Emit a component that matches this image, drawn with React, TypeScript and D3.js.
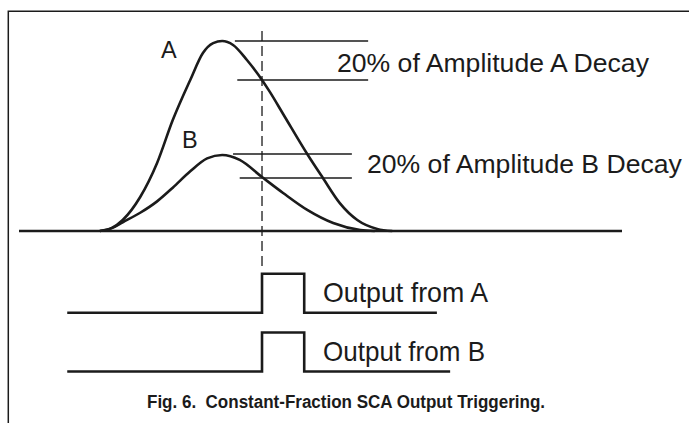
import React from 'react';
import * as d3 from 'd3';

// time axis (arbitrary units) and amplitude (A peak = 100)
const pulseATime = [13.4, 15.4, 17.2, 20.1, 22.9, 25.5, 28.4, 30.5, 32.2, 33.7, 35.5, 37.8, 40.3, 41.6, 43.8, 47.9, 50.4, 53.2, 56.1, 59.4, 61.9];
const pulseAAmp = [0, 1.6, 5.8, 17.9, 35.8, 58.4, 79.5, 93.7, 98.9, 100, 97.9, 90, 79.5, 73.2, 61.6, 40, 27.9, 14.7, 5.8, 1.1, 0];

const pulseBTime = [13.4, 15.4, 17.2, 20.1, 22.9, 25.5, 28.4, 31.2, 33.7, 36.6, 40.3, 43.8, 47.8, 52.1, 56.6, 59.0];
const pulseBAmp = [0, 1.5, 4.6, 9.6, 15.6, 22.8, 31.4, 38.2, 40, 37.4, 28.4, 20, 11.1, 4.2, 0.5, 0];

// reference levels: [amp, tStart, tEnd]
const refLevels = [
  [100, 35.8, 57.9],
  [79.5, 36.2, 57.9],
  [40.5, 35.5, 55.2],
  [27.9, 36.6, 55.2],
];

const triggerTime = 40.3;
const baselineRange = [0, 100];

// logic outputs
const outputNames = ['A', 'B'];
const outputStart = [8.0, 8.0];
const outputEnd = [69.3, 71.5];
const outputRise = [40.3, 40.3];
const outputFall = [47.3, 47.3];

const labels = ['20% of Amplitude A Decay', '20% of Amplitude B Decay'];
const caption = 'Fig. 6.  Constant-Fraction SCA Output Triggering.';

const W = 689, H = 423;
const FONT = '"Liberation Sans", Arial, Helvetica, sans-serif';
const INK = '#1b1b1b';

export default function App() {
  const x = d3.scaleLinear().domain([0, 100]).range([19, 622]);
  const y = d3.scaleLinear().domain([0, 100]).range([231, 41]);
  // output rows: low level baseline for each row
  const rowY = d3.scalePoint().domain(outputNames).range([312.7, 371.5]);
  const level = d3.scaleLinear().domain([0, 1]).range([0, -39]);

  const line = d3.line<[number, number]>()
    .x(d => x(d[0]))
    .y(d => y(d[1]))
    .curve(d3.curveMonotoneX);

  const aPts = pulseATime.map((t, i) => [t, pulseAAmp[i]] as [number, number]);
  const bPts = pulseBTime.map((t, i) => [t, pulseBAmp[i]] as [number, number]);

  const stepLine = d3.line<[number, number]>().curve(d3.curveLinear);

  return (
    <svg width={W} height={H} style={{ position: 'absolute', left: 0, top: 0, background: '#fff' }}>
      {/* frame */}
      <path d={`M8.3,${H} V11.3 H${W}`} fill="none" stroke={INK} strokeWidth={1.5} />

      {/* baseline */}
      <line x1={x(baselineRange[0])} x2={x(baselineRange[1])} y1={y(0)} y2={y(0)} stroke={INK} strokeWidth={2.6} />

      {/* reference level lines */}
      {refLevels.map((r, i) => (
        <line key={i} x1={x(r[1])} x2={x(r[2])} y1={y(r[0])} y2={y(r[0])} stroke={INK} strokeWidth={1.6} />
      ))}

      {/* pulses */}
      <path d={line(aPts) || ''} fill="none" stroke={INK} strokeWidth={2.6} strokeLinejoin="round" />
      <path d={line(bPts) || ''} fill="none" stroke={INK} strokeWidth={2.6} strokeLinejoin="round" />

      {/* trigger marker */}
      <line x1={x(triggerTime)} x2={x(triggerTime)} y1={31} y2={270} stroke={INK} strokeWidth={1.3} strokeDasharray="10 5" />

      <text x={161} y={58} fontFamily={FONT} fontSize={23.5} fill={INK}>A</text>
      <text x={182} y={148} fontFamily={FONT} fontSize={23.5} fill={INK}>B</text>
      <text x={337} y={72} fontFamily={FONT} fontSize={26.6} fill={INK}>{labels[0]}</text>
      <text x={367} y={173} fontFamily={FONT} fontSize={26.6} fill={INK}>{labels[1]}</text>

      {/* logic outputs */}
      {outputNames.map((n, i) => {
        const base = rowY(n) as number;
        const pts: [number, number][] = [
          [x(outputStart[i]), base],
          [x(outputRise[i]), base],
          [x(outputRise[i]), base + level(1)],
          [x(outputFall[i]), base + level(1)],
          [x(outputFall[i]), base],
          [x(outputEnd[i]), base],
        ];
        return (
          <g key={n}>
            <path d={stepLine(pts) || ''} fill="none" stroke={INK} strokeWidth={2.6} />
            <text x={323} y={base - 10.5} fontFamily={FONT} fontSize={28.5} fill={INK}
              textLength={n === 'A' ? 165 : 162} lengthAdjust="spacingAndGlyphs">{`Output from ${n}`}</text>
          </g>
        );
      })}

      <text x={147} y={408} fontFamily={FONT} fontSize={17.5} fontWeight="bold" fill={INK}
        textLength={398} lengthAdjust="spacingAndGlyphs" style={{ whiteSpace: 'pre' }}>{caption}</text>
    </svg>
  );
}
